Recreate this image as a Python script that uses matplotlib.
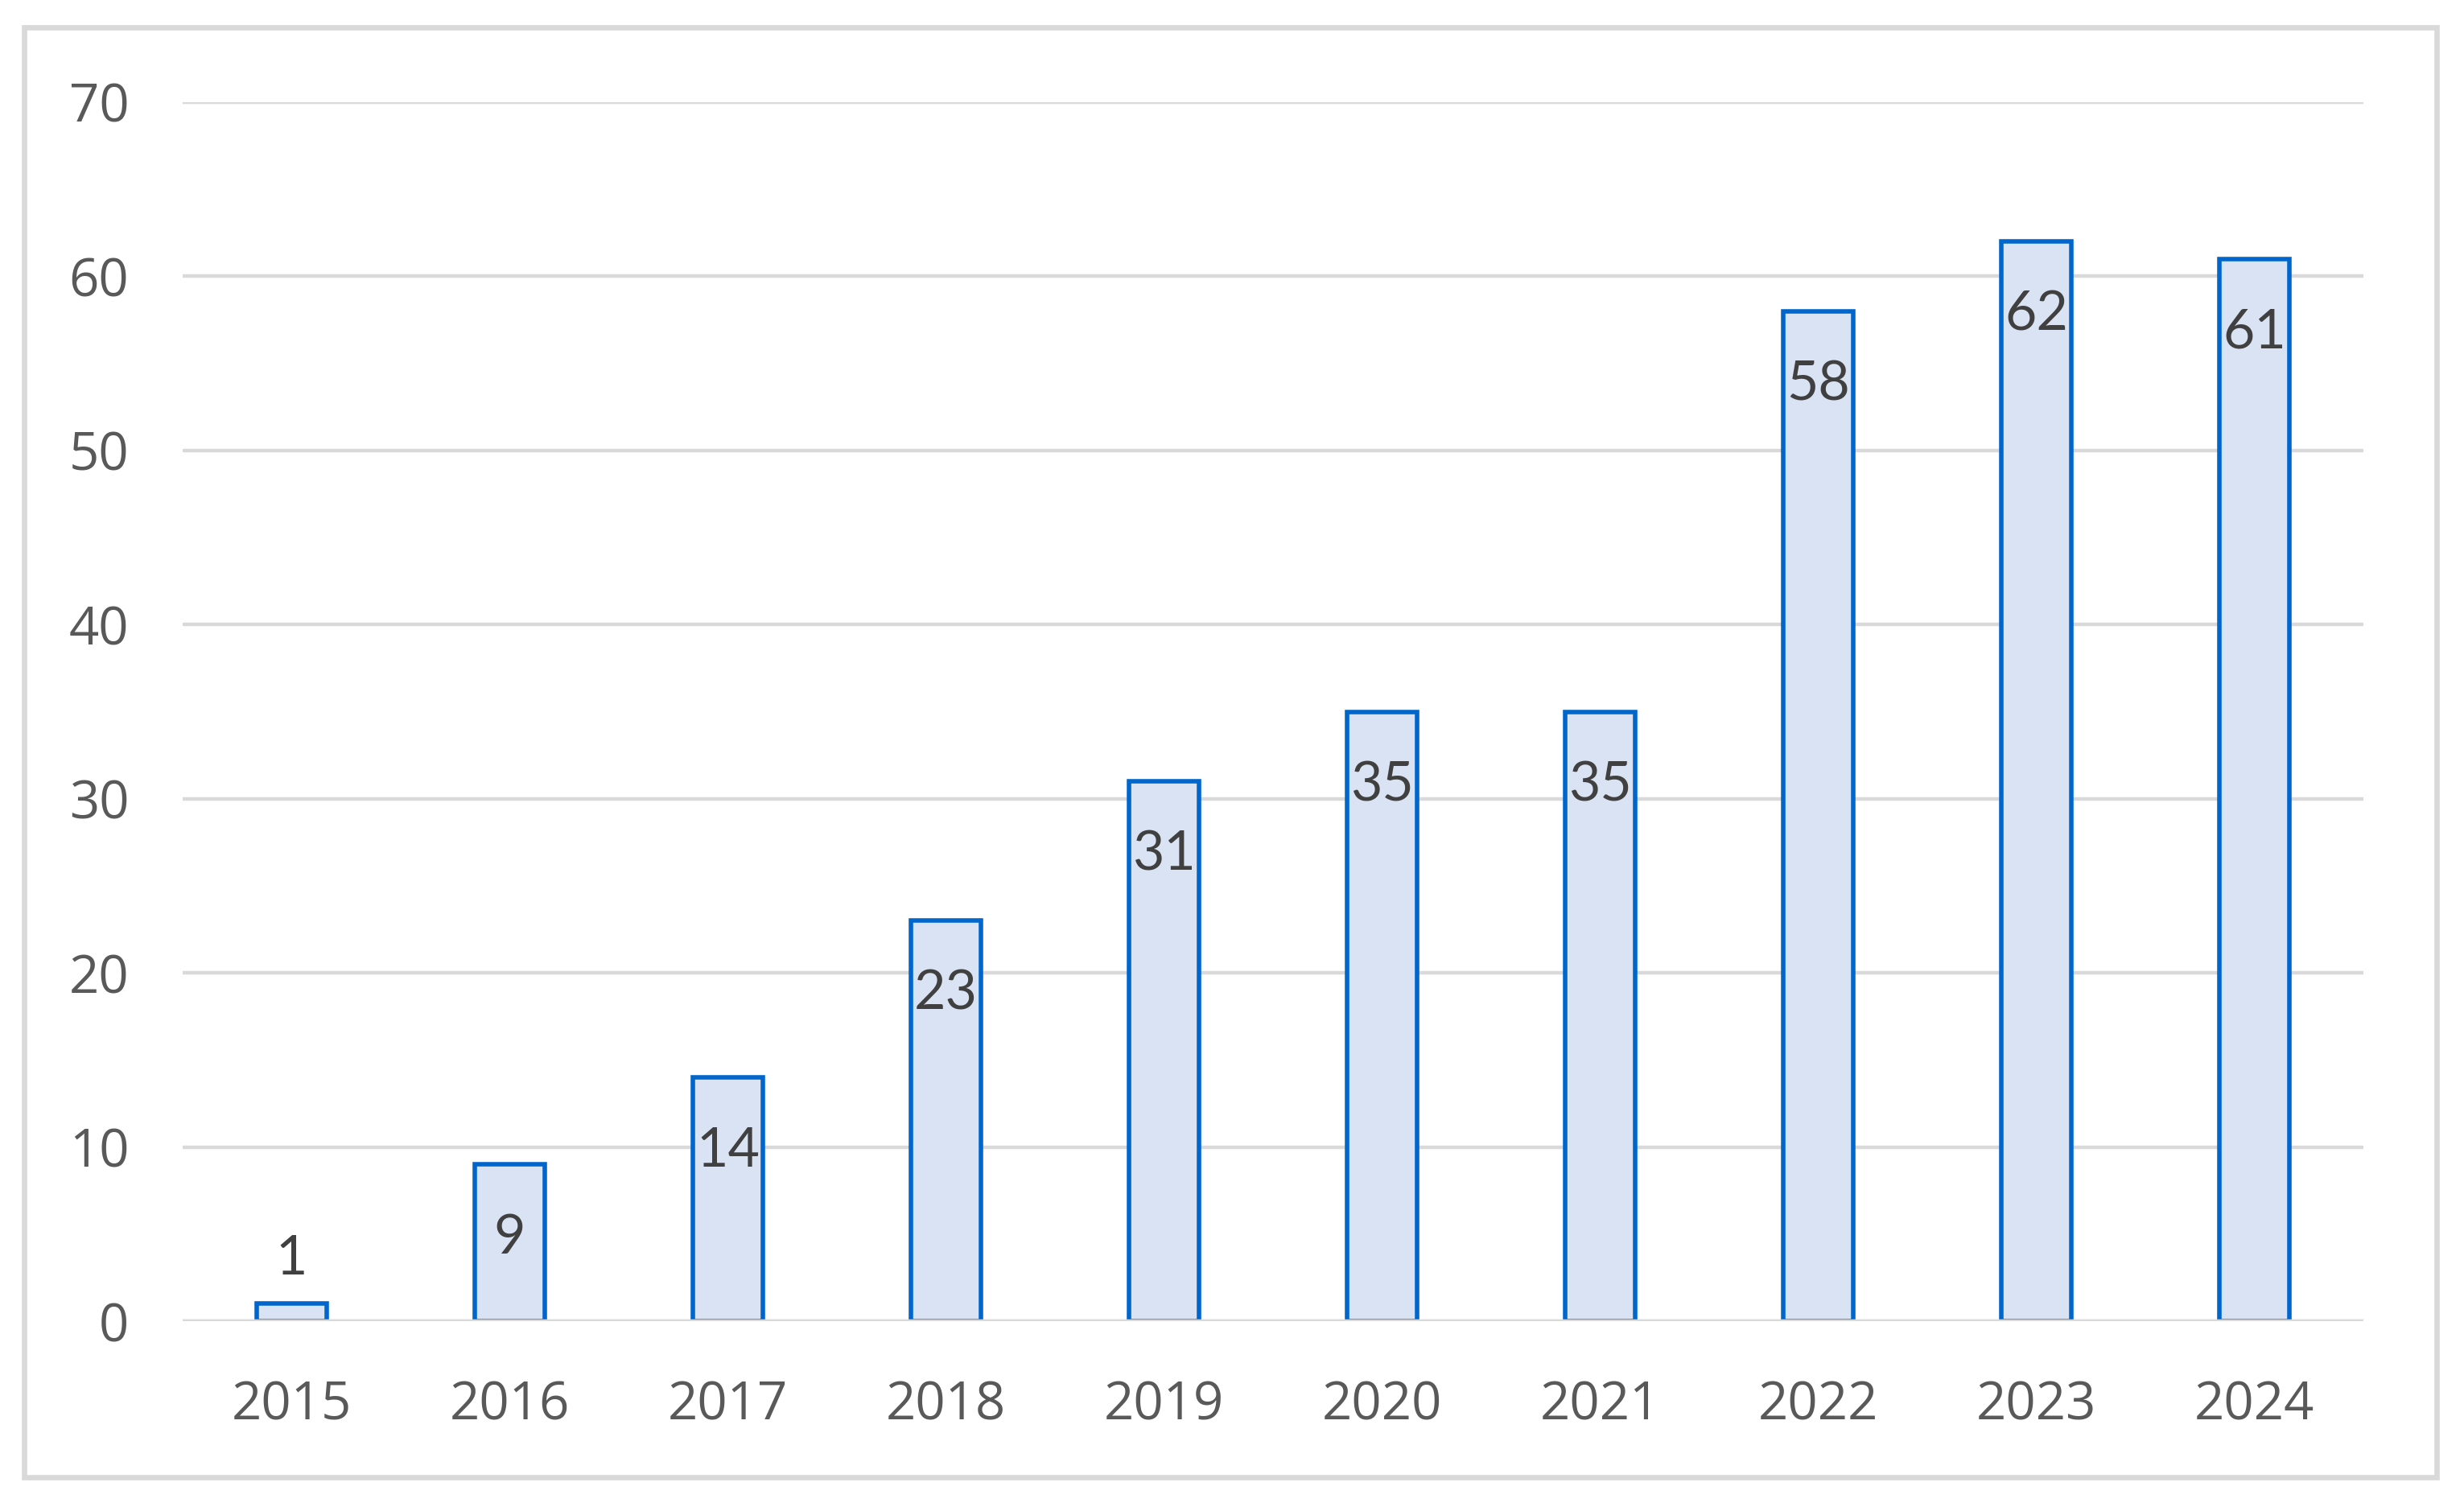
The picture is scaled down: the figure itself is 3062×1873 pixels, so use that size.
import matplotlib
matplotlib.use("Agg")
import matplotlib.pyplot as plt
from matplotlib.patches import Rectangle

years = ["2015", "2016", "2017", "2018", "2019", "2020", "2021", "2022", "2023", "2024"]
counts = [1, 9, 14, 23, 31, 35, 35, 58, 62, 61]
yticks = [0, 10, 20, 30, 40, 50, 60, 70]

DPI = 200
fig = plt.figure(figsize=(3062 / DPI, 1873 / DPI), dpi=DPI)
fig.patch.set_facecolor("white")

ax = fig.add_axes([227 / 3062, 1 - 1642 / 1873, 2710 / 3062, (1642 - 127) / 1873])
x = list(range(len(years)))
ax.bar(x, counts, width=0.32, color="#DAE3F3", edgecolor="#0066CC", linewidth=2.0, zorder=2)
ax.set_xlim(-0.5, len(years) - 0.5)
ax.set_ylim(0, 70)
ax.set_yticks(yticks)
ax.set_xticks(x)
ax.set_xticklabels(years)
for s in ax.spines.values():
    s.set_visible(False)
ax.grid(axis="y", color="#D9D9D9", linewidth=1.6, zorder=0)
ax.set_axisbelow(True)
ax.axhline(0, color="#D9D9D9", linewidth=1.6, zorder=3)
ax.tick_params(axis="both", length=0, labelsize=23.5, labelcolor="#595959")
ax.tick_params(axis="y", pad=24)
ax.tick_params(axis="x", pad=26)
for lab in ax.get_xticklabels() + ax.get_yticklabels():
    lab.set_fontfamily("Open Sans")

for xi, v in zip(x, counts):
    if v < 5:
        ax.annotate(str(v), (xi, v), xytext=(0, 20), textcoords="offset points",
                    ha="center", va="center", fontsize=24.5, color="#404040",
                    fontfamily="Lato", zorder=4)
    else:
        ax.annotate(str(v), (xi, v), xytext=(0, -33), textcoords="offset points",
                    ha="center", va="center", fontsize=24.5, color="#404040",
                    fontfamily="Lato", zorder=4)

fig.patches.append(Rectangle((30 / 3062, 1 - 1836 / 1873), (3028 - 30) / 3062, (1836 - 34) / 1873,
                             transform=fig.transFigure, fill=False, edgecolor="#D9D9D9",
                             linewidth=2.4))

fig.savefig("out.png", dpi=DPI, facecolor="white")
